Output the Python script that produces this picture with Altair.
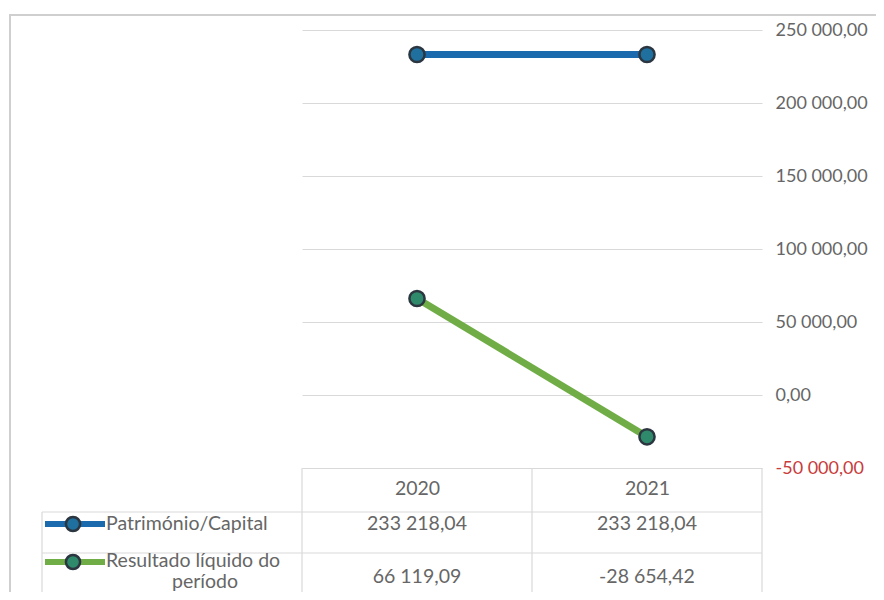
import altair as alt
import pandas as pd

years = ["2020", "2021"]
series_names = ["Património/Capital", "Resultado líquido do período"]
patrimonio = [233218.04, 233218.04]
resultado = [66119.09, -28654.42]
line_colors = ["#1b6aae", "#70ad47"]
point_fills = ["#1f6f9f", "#2f8a6c"]
y_ticks = [-50000, 0, 50000, 100000, 150000, 200000, 250000]

rows = []
for name, vals in zip(series_names, [patrimonio, resultado]):
    for yr, v in zip(years, vals):
        rows.append({"serie": name, "ano": yr, "valor": v})
df = pd.DataFrame(rows)

FONT = "Lato"
FS = 19.5
GRAY = "#666666"
GRID = "#d9d9d9"
W, H = 460, 438

xenc = alt.X("ano:N", scale=alt.Scale(type="point", domain=years, padding=0.5),
             axis=alt.Axis(title=None, domain=False, ticks=False, grid=False, labelAngle=0,
                           labelFont=FONT, labelFontSize=FS, labelColor=GRAY,
                           labelPadding=11))
yscale = alt.Scale(domain=[-50000, 250000], nice=False, zero=False)
yenc = alt.Y("valor:Q", scale=yscale,
             axis=alt.Axis(title=None, orient="right", values=y_ticks, format=",.2f",
                           domain=False, ticks=False, grid=True, gridColor=GRID,
                           gridWidth=1.2, labelFont=FONT, labelFontSize=18,
                           labelPadding=13, labelLimit=200,
                           labelColor={"condition": {"test": "datum.value < 0", "value": "#c83c3c"},
                                       "value": GRAY}))
color = alt.Color("serie:N", scale=alt.Scale(domain=series_names, range=line_colors), legend=None)
fill = alt.Fill("serie:N", scale=alt.Scale(domain=series_names, range=point_fills), legend=None)

base = alt.Chart(df)
lines = base.mark_line(strokeWidth=7).encode(x=xenc, y=yenc, color=color, detail="serie:N")
points = base.mark_point(filled=True, size=230, stroke="#2b3640", strokeWidth=2.5,
                         opacity=1).encode(x=xenc, y=yenc, fill=fill)

one = pd.DataFrame({"k": [0]})
frame = alt.Chart(one).mark_rect(fill="white", fillOpacity=0, stroke="#cfcfcf",
                                 strokeWidth=2).encode(
    x=alt.value(-292), x2=alt.value(700), y=alt.value(-15), y2=alt.value(700))

tbl_stroke = {"stroke": GRID, "strokeWidth": 1.2}
vlines = [
    alt.Chart(one).mark_rule(**tbl_stroke).encode(x=alt.value(xv), y=alt.value(438), y2=alt.value(590))
    for xv in [0, 230, 460]
] + [alt.Chart(one).mark_rule(**tbl_stroke).encode(x=alt.value(-260), y=alt.value(482), y2=alt.value(590))]
hlines = [
    alt.Chart(one).mark_rule(**tbl_stroke).encode(x=alt.value(-260), x2=alt.value(460), y=alt.value(yv))
    for yv in [482, 523]
]

row_y = {series_names[0]: 494, series_names[1]: 547}
key_y = {series_names[0]: 494, series_names[1]: 532}
layers = [frame, lines, points] + vlines + hlines
for i, name in enumerate(series_names):
    sub = base.transform_filter(alt.datum.serie == name)
    layers.append(sub.mark_text(font=FONT, fontSize=FS, color=GRAY).encode(
        x=xenc, y=alt.value(row_y[name]), text=alt.Text("valor:Q", format=",.2f")))
    kdf = pd.DataFrame({"serie": [name]})
    layers.append(alt.Chart(kdf).mark_rule(strokeWidth=6, color=line_colors[i]).encode(
        x=alt.value(-257), x2=alt.value(-197), y=alt.value(key_y[name])))
    layers.append(alt.Chart(kdf).mark_point(filled=True, size=200, fill=point_fills[i],
                                            stroke="#2b3640", strokeWidth=2.5, opacity=1).encode(
        x=alt.value(-229), y=alt.value(key_y[name])))

layers.append(alt.Chart(pd.DataFrame({"t": [series_names[0]]})).mark_text(
    font=FONT, fontSize=FS, color=GRAY, align="left").encode(
    x=alt.value(-196), y=alt.value(494), text="t:N"))
layers.append(alt.Chart(pd.DataFrame({"t": ["Resultado líquido do"]})).mark_text(
    font=FONT, fontSize=FS, color=GRAY, align="left").encode(
    x=alt.value(-196), y=alt.value(531), text="t:N"))
layers.append(alt.Chart(pd.DataFrame({"t": ["período"]})).mark_text(
    font=FONT, fontSize=FS, color=GRAY, align="center").encode(
    x=alt.value(-97), y=alt.value(552), text="t:N"))

chart = alt.layer(*layers).properties(
    width=W, height=H,
    autosize=alt.AutoSizeParams(type="none"),
    padding={"left": 294, "top": 22, "right": 114, "bottom": 124},
).configure(
    background="white",
    view={"stroke": None},
    locale={"number": {"decimal": ",", "thousands": " ", "grouping": [3],
                       "currency": ["", ""], "minus": "-"}},
)

chart.save("out.html", embed_options={"renderer": "svg", "actions": False})
